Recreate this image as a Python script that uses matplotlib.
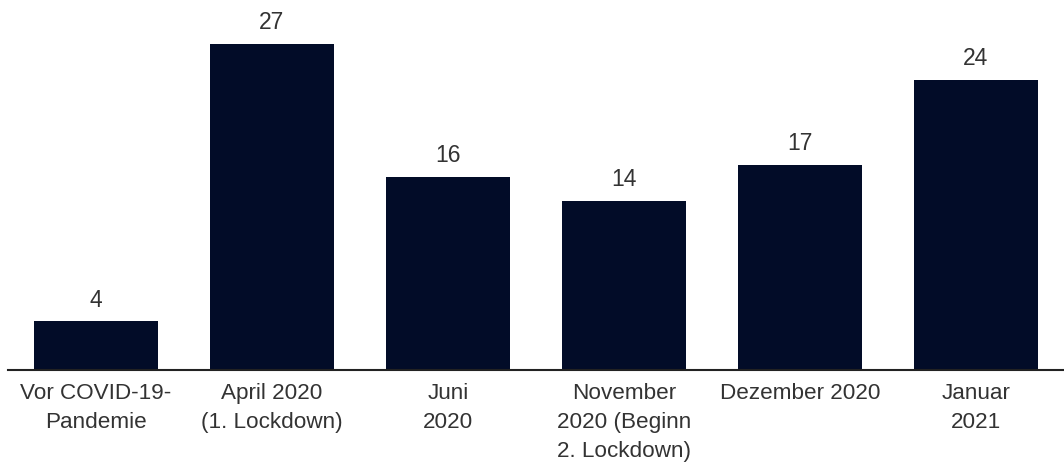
import matplotlib.pyplot as plt
import numpy as np

plt.rcParams['font.family'] = ['Liberation Sans', 'DejaVu Sans']

categories = ["Vor COVID-19-\nPandemie", "April 2020\n(1. Lockdown)", "Juni\n2020",
              "November\n2020 (Beginn\n2. Lockdown)", "Dezember 2020", "Januar\n2021"]
values = [4, 27, 16, 14, 17, 24]

bar_color = '#020c28'
text_color = '#333333'

fig = plt.figure(figsize=(10.64, 4.66), dpi=100)
ax = fig.add_axes([8 / 1064, 96.5 / 466, 1056 / 1064, 0.776])

x = np.arange(len(values))
bars = ax.bar(x, values, width=0.70, color=bar_color, zorder=2)

for xi, v in zip(x, values):
    ax.annotate(str(v), (xi, v), xytext=(0, 7), textcoords='offset points',
                ha='center', va='bottom', fontsize=16.5, color=text_color)

ax.set_xlim(-0.5, 5.5)
ax.set_ylim(0, 30)
ax.set_xticks(x)
ax.set_xticklabels(categories, fontsize=16.2, color=text_color, linespacing=1.5)
ax.tick_params(axis='x', length=0, pad=10)
ax.set_yticks([])

for side in ['top', 'right', 'left']:
    ax.spines[side].set_visible(False)
ax.spines['bottom'].set_color('#222222')
ax.spines['bottom'].set_linewidth(1.5)

fig.savefig('out.png', dpi=100, facecolor='white')
